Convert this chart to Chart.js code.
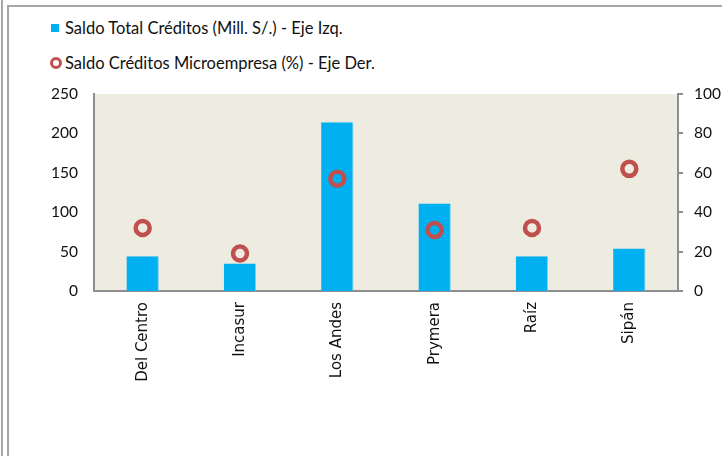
<!DOCTYPE html>
<html>
<head>
<meta charset="utf-8">
<script src="https://cdn.jsdelivr.net/npm/chart.js@4"></script>
<style>
  html, body { margin: 0; padding: 0; background: #fff; }
  #wrap { position: relative; width: 722px; height: 456px; overflow: hidden; }
  .vline { position: absolute; top: 0; bottom: 0; width: 2px; background: #a6a6a6; }
  .hline { position: absolute; left: 7px; right: 0; top: 5px; height: 2px; background: #a6a6a6; }
  #chart { position: absolute; left: 0; top: 0; }
  .leg { position: absolute; left: 65px; font: 16.5px Lato, sans-serif; color: #111; line-height: 20px; white-space: nowrap; }
  .sq { position: absolute; left: 51px; width: 8px; height: 8px; background: #00b0f0; }
  .ring { position: absolute; width: 6px; height: 6px; border: 3px solid #c0504d; border-radius: 50%; }
</style>
</head>
<body>
<div id="wrap">
  <div class="vline" style="left:1px"></div>
  <div class="vline" style="left:7px; top:5px"></div>
  <div class="hline"></div>
  <div class="sq" style="top:24px"></div>
  <div class="leg" id="leg0" style="top:18px"></div>
  <div class="ring" style="left:50px; top:57px"></div>
  <div class="leg" id="leg1" style="top:53px"></div>
  <canvas id="chart" width="722" height="456"></canvas>
</div>
<script>
'use strict';

const categories = ['Del Centro', 'Incasur', 'Los Andes', 'Prymera', 'Raíz', 'Sipán'];
const saldoTotal = [44, 35, 214, 111, 44, 54];
const microPct = [32, 19, 57, 31, 32, 62];
const leftTicks = [0, 50, 100, 150, 200, 250];
const rightTicks = [0, 20, 40, 60, 80, 100];
const seriesNames = ['Saldo Total Créditos (Mill. S/.) - Eje Izq.', 'Saldo Créditos Microempresa (%) - Eje Der.'];

document.getElementById('leg0').textContent = seriesNames[0];
document.getElementById('leg1').textContent = seriesNames[1];

// fondo beige del área del gráfico
const plotBg = {
  id: 'plotBg',
  beforeDraw(chart) {
    const a = chart.chartArea;
    const ctx = chart.ctx;
    ctx.save();
    ctx.fillStyle = '#eeebe1';
    ctx.fillRect(a.left, a.top, a.right - a.left, a.bottom - a.top);
    ctx.restore();
  }
};

const ctx = document.getElementById('chart').getContext('2d');
new Chart(ctx, {
  data: {
    labels: categories,
    datasets: [
      {
        type: 'line',
        label: seriesNames[1],
        data: microPct,
        yAxisID: 'y1',
        showLine: false,
        pointRadius: 7,
        pointHoverRadius: 7,
        pointBorderWidth: 4.5,
        pointBorderColor: '#c0504d',
        pointBackgroundColor: 'rgba(0,0,0,0)',
        borderColor: '#c0504d'
      },
      {
        type: 'bar',
        label: seriesNames[0],
        data: saldoTotal,
        yAxisID: 'y',
        backgroundColor: '#00b0f0',
        borderColor: '#7fd3f2',
        borderWidth: { right: 1 },
        categoryPercentage: 1,
        barPercentage: 0.333
      }
    ]
  },
  options: {
    responsive: false,
    animation: false,
    layout: { padding: { top: 94, left: 0, right: 0, bottom: 0 } },
    plugins: { legend: { display: false }, tooltip: { enabled: false } },
    scales: {
      x: {
        grid: { display: false, drawTicks: false },
        border: { display: true, color: '#8e8e8e', width: 2 },
        ticks: {
          autoSkip: false, minRotation: 90, maxRotation: 90, padding: 11,
          color: '#111', font: { family: 'DejaVu Sans', size: 15 }
        },
        afterFit(s) { s.height = 165; }
      },
      y: {
        position: 'left', min: 0, max: 250,
        afterBuildTicks(s) { s.ticks = leftTicks.map(v => ({ value: v })); },
        grid: { display: false, drawTicks: false },
        border: { display: true, color: '#8e8e8e', width: 2 },
        ticks: { padding: 16, color: '#111', font: { family: 'Lato', size: 15.5 } },
        afterFit(s) { s.width = 94; }
      },
      y1: {
        position: 'right', min: 0, max: 100,
        afterBuildTicks(s) { s.ticks = rightTicks.map(v => ({ value: v })); },
        grid: { display: true, drawOnChartArea: false, drawTicks: true, tickLength: 5, color: '#8e8e8e', lineWidth: 2 },
        border: { display: true, color: '#8e8e8e', width: 2 },
        ticks: { padding: 11, color: '#111', font: { family: 'Lato', size: 15.5 } },
        afterFit(s) { s.width = 44; }
      }
    }
  },
  plugins: [plotBg]
});
</script>
</body>
</html>
